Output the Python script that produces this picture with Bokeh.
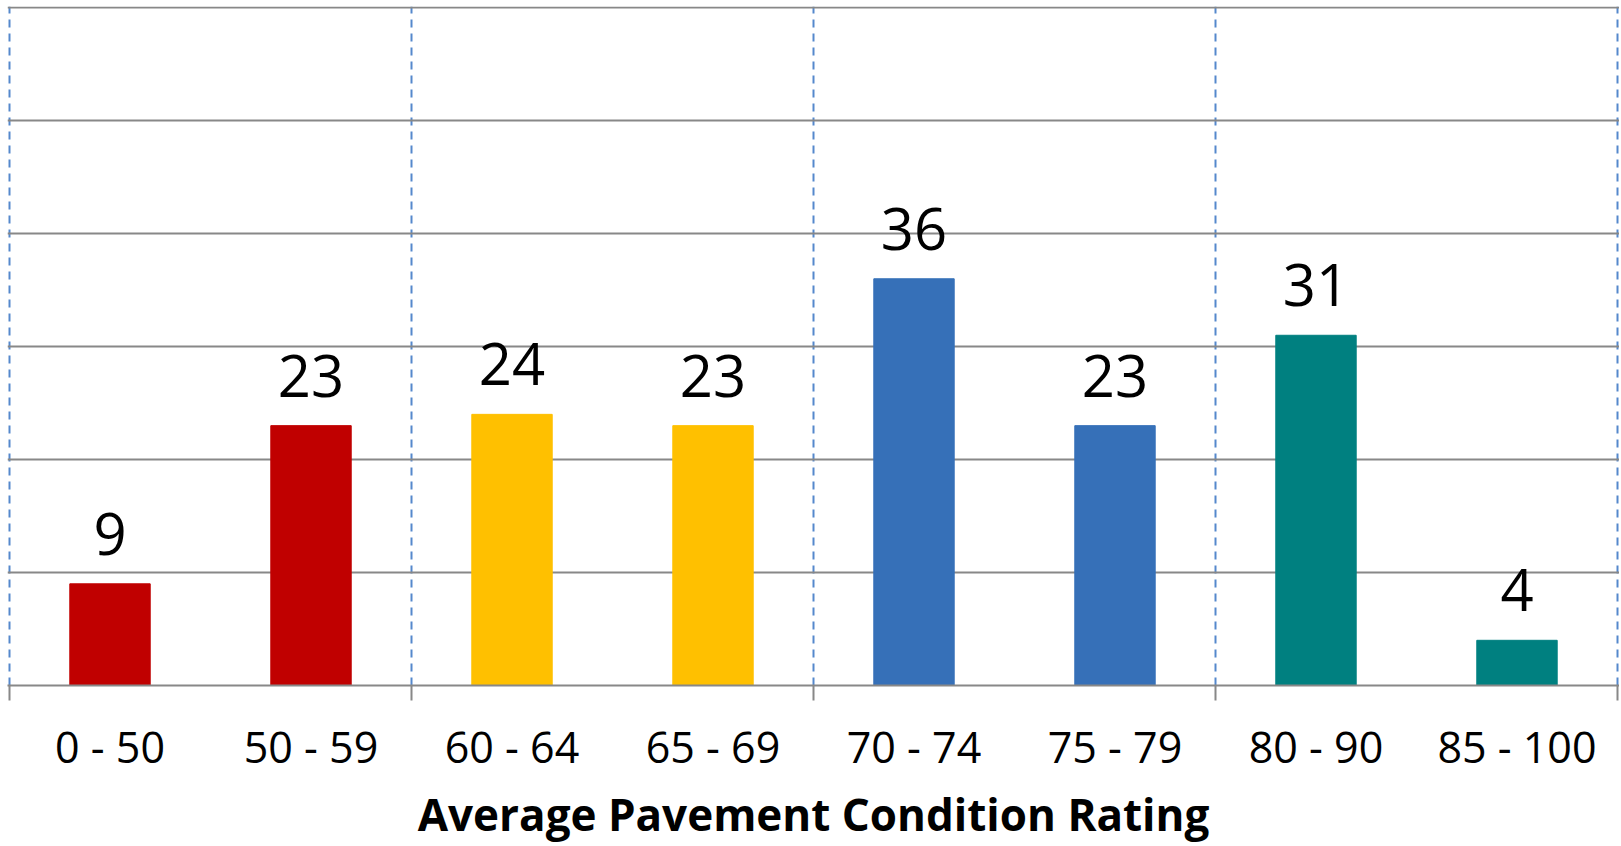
from bokeh.plotting import figure
from bokeh.models import Range1d, FixedTicker, ColumnDataSource
from bokeh.core.properties import value
from bokeh.embed import file_html
from bokeh.resources import INLINE

categories = ["0 - 50", "50 - 59", "60 - 64", "65 - 69", "70 - 74", "75 - 79", "80 - 90", "85 - 100"]
counts = [9, 23, 24, 23, 36, 23, 31, 4]
bar_colors = ["#C00000", "#C00000", "#FFC000", "#FFC000", "#3670B8", "#3670B8", "#008080", "#008080"]
y_ticks = [0, 10, 20, 30, 40, 50, 60]
group_edges = [0, 2, 4, 6, 8]
x_title = "Average Pavement Condition Rating"

centers = [i + 0.5 for i in range(len(categories))]
src = ColumnDataSource(dict(x=centers, top=counts, color=bar_colors,
                            label=[str(c) for c in counts]))

p = figure(width=1619, height=846, output_backend="svg", toolbar_location=None,
           x_range=Range1d(-0.01, len(categories) + 0.01), y_range=Range1d(0, 60.1),
           min_border_left=7, min_border_right=0, min_border_top=6, min_border_bottom=0)
p.outline_line_color = None
p.background_fill_color = "white"

p.vbar(x="x", top="top", bottom=0, width=0.40, color="color", source=src)
p.text(x="x", y="top", text="label", source=src, text_align="center",
       text_baseline="alphabetic", y_offset=-50, text_font=value("Open Sans"),
       text_font_size="58px", text_color="black")

p.yaxis.visible = False
p.ygrid.ticker = FixedTicker(ticks=y_ticks)
p.ygrid.grid_line_color = "#888888"
p.ygrid.grid_line_width = 2
p.ygrid.level = "underlay"

p.xgrid.ticker = FixedTicker(ticks=group_edges)
p.xgrid.grid_line_color = "#5588CC"
p.xgrid.grid_line_width = 2
p.xgrid.grid_line_dash = "8 6"

xa = p.xaxis[0]
xa.ticker = FixedTicker(ticks=centers, minor_ticks=group_edges)
xa.major_label_overrides = {c: lab for c, lab in zip(centers, categories)}
xa.major_tick_out = 0
xa.major_tick_in = 0
xa.minor_tick_out = 15
xa.minor_tick_in = 0
xa.minor_tick_line_color = "#888888"
xa.minor_tick_line_width = 2
xa.axis_line_color = "#888888"
xa.axis_line_width = 2
xa.major_label_text_font = "Open Sans"
xa.major_label_text_font_size = "43px"
xa.major_label_text_color = "black"
xa.major_label_standoff = 16
xa.axis_label = x_title
xa.axis_label_text_font = "Open Sans"
xa.axis_label_text_font_style = "bold"
xa.axis_label_text_font_size = "44px"
xa.axis_label_text_color = "black"
xa.axis_label_standoff = 5

open("out.html", "w").write(file_html(p, INLINE))
